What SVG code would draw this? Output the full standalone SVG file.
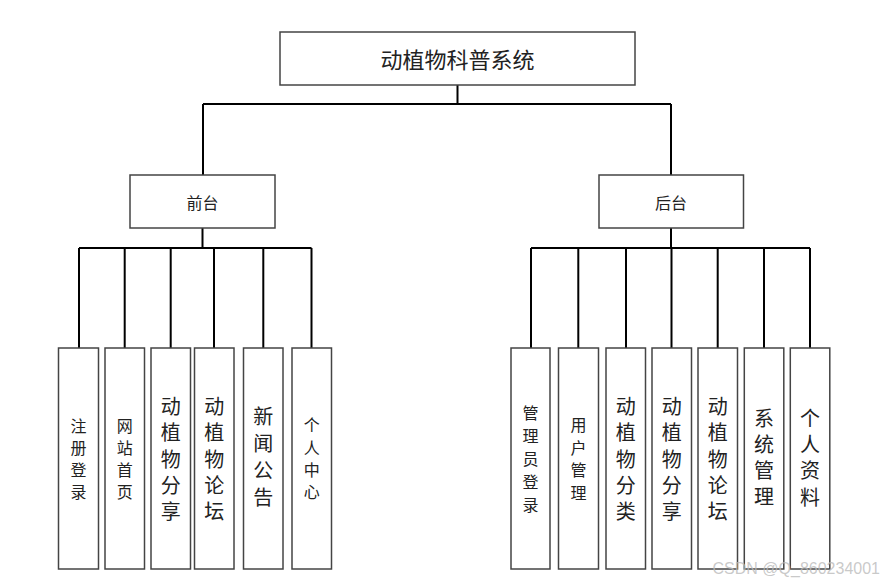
<svg xmlns="http://www.w3.org/2000/svg" width="884" height="582" viewBox="0 0 884 582">
<style>
.box{fill:#fff;stroke:#444;stroke-width:1.5}
.con{stroke:#000;stroke-width:2;fill:none}
.t{font-family:"Noto Sans CJK SC","Noto Sans",sans-serif;fill:#222;text-anchor:middle;dominant-baseline:central}
.s16{font-size:16px}
.s20{font-size:20px}
</style>
<rect width="884" height="582" fill="#fff"/>
<g id="connectors">
<path class="con" d="M457.5 85V104M203 104H671M203 104V175M671 104V175"/>
<path class="con" d="M202.5 228V248" stroke-width="3"/>
<path class="con" d="M79 248H311.5M79 248V348M124.7 248V348M170.7 248V348M214 248V348M263.3 248V348M311.5 248V348"/>
<path class="con" d="M671 228V248" stroke-width="3"/>
<path class="con" d="M531 248H810M531 248V348M578.3 248V348M626 248V348M671.5 248V348M717.7 248V348M764 248V348M810 248V348"/>
</g>
<g id="root"><rect class="box" x="280" y="32" width="355" height="53"/><text class="t" x="457.5" y="58" font-size="22">动植物科普系统</text></g>
<g id="qiantai"><rect class="box" x="130" y="175" width="145" height="53"/><text class="t s16" x="202.5" y="202">前台</text></g>
<g id="houtai"><rect class="box" x="599" y="175" width="144.5" height="53"/><text class="t s16" x="671" y="202">后台</text></g>

<g id="zhuce"><rect class="box" x="58.5" y="348" width="40" height="221"/><text class="t s16"><tspan x="78.5" y="425">注</tspan><tspan x="78.5" y="447">册</tspan><tspan x="78.5" y="469">登</tspan><tspan x="78.5" y="491">录</tspan></text></g>
<g id="shouye"><rect class="box" x="105" y="348" width="39.5" height="221"/><text class="t s16"><tspan x="124.7" y="425">网</tspan><tspan x="124.7" y="447">站</tspan><tspan x="124.7" y="469">首</tspan><tspan x="124.7" y="491">页</tspan></text></g>
<g id="fenxiang1"><rect class="box" x="151" y="348" width="39.5" height="221"/><text class="t s20"><tspan x="170.7" y="405">动</tspan><tspan x="170.7" y="431">植</tspan><tspan x="170.7" y="457.5">物</tspan><tspan x="170.7" y="484">分</tspan><tspan x="170.7" y="510">享</tspan></text></g>
<g id="luntan1"><rect class="box" x="194.5" y="348" width="39.5" height="221"/><text class="t s20"><tspan x="214.2" y="405">动</tspan><tspan x="214.2" y="431">植</tspan><tspan x="214.2" y="457.5">物</tspan><tspan x="214.2" y="484">论</tspan><tspan x="214.2" y="510">坛</tspan></text></g>
<g id="xinwen"><rect class="box" x="243.5" y="348" width="39.5" height="221"/><text class="t s20"><tspan x="263.3" y="415">新</tspan><tspan x="263.3" y="442">闻</tspan><tspan x="263.3" y="469">公</tspan><tspan x="263.3" y="496">告</tspan></text></g>
<g id="geren"><rect class="box" x="292" y="348" width="39.5" height="221"/><text class="t s16"><tspan x="311.8" y="424">个</tspan><tspan x="311.8" y="447">人</tspan><tspan x="311.8" y="469">中</tspan><tspan x="311.8" y="491">心</tspan></text></g>

<g id="guanliyuan"><rect class="box" x="511" y="348" width="39" height="221"/><text class="t s16"><tspan x="530.5" y="412">管</tspan><tspan x="530.5" y="435">理</tspan><tspan x="530.5" y="458">员</tspan><tspan x="530.5" y="481">登</tspan><tspan x="530.5" y="504">录</tspan></text></g>
<g id="yonghu"><rect class="box" x="558.5" y="348" width="40" height="221"/><text class="t s16"><tspan x="578.5" y="424">用</tspan><tspan x="578.5" y="447">户</tspan><tspan x="578.5" y="469">管</tspan><tspan x="578.5" y="492">理</tspan></text></g>
<g id="fenlei"><rect class="box" x="606" y="348" width="39.5" height="221"/><text class="t s20"><tspan x="625.7" y="405">动</tspan><tspan x="625.7" y="431">植</tspan><tspan x="625.7" y="457.5">物</tspan><tspan x="625.7" y="484">分</tspan><tspan x="625.7" y="510">类</tspan></text></g>
<g id="fenxiang2"><rect class="box" x="652" y="348" width="39.5" height="221"/><text class="t s20"><tspan x="671.7" y="405">动</tspan><tspan x="671.7" y="431">植</tspan><tspan x="671.7" y="457.5">物</tspan><tspan x="671.7" y="484">分</tspan><tspan x="671.7" y="510">享</tspan></text></g>
<g id="luntan2"><rect class="box" x="698" y="348" width="39.5" height="221"/><text class="t s20"><tspan x="717.7" y="405">动</tspan><tspan x="717.7" y="431">植</tspan><tspan x="717.7" y="457.5">物</tspan><tspan x="717.7" y="484">论</tspan><tspan x="717.7" y="510">坛</tspan></text></g>
<g id="xitong"><rect class="box" x="744.3" y="348" width="39.5" height="221"/><text class="t s20"><tspan x="764" y="417">系</tspan><tspan x="764" y="443">统</tspan><tspan x="764" y="469">管</tspan><tspan x="764" y="495">理</tspan></text></g>
<g id="ziliao"><rect class="box" x="790.3" y="348" width="39.5" height="221"/><text class="t s20"><tspan x="810" y="417">个</tspan><tspan x="810" y="443">人</tspan><tspan x="810" y="469">资</tspan><tspan x="810" y="496">料</tspan></text></g>

<text x="880" y="574" font-family="'Liberation Sans',sans-serif" font-size="16" fill="#bbb" fill-opacity="0.8" text-anchor="end">CSDN @Q_860234001</text>
</svg>
